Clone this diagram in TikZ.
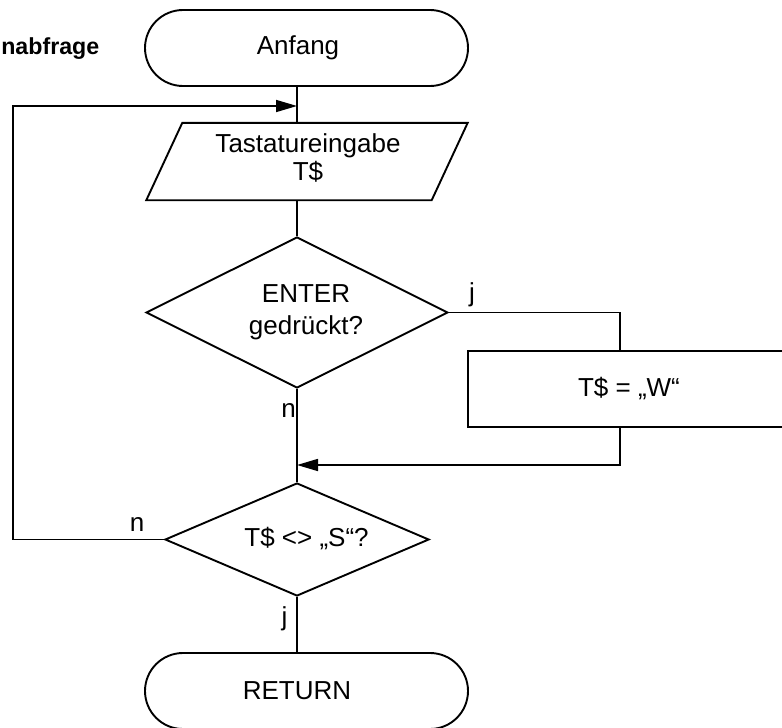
\documentclass[tikz,border=0pt]{standalone}
\usepackage{fontspec}
\setmainfont{Liberation Sans}
\usetikzlibrary{shapes.geometric,arrows.meta,calc}
\begin{document}
\begin{tikzpicture}[x=1pt,y=-1pt,
  shapeline/.style={draw,line width=1.9pt},
  conn/.style={line width=1.6pt},
  arr/.style={conn,-{Triangle[length=21pt,width=12pt]}},
  txt/.style={font=\fontsize{26}{32}\selectfont,align=center,inner sep=0pt},
  lbl/.style={font=\fontsize{26}{31}\selectfont,inner sep=0pt,anchor=base},
  term/.style={shapeline,rectangle,rounded corners=38pt,minimum width=323pt,minimum height=76pt,inner sep=0pt},
  dec/.style={shapeline,diamond,inner sep=0pt},
  proc/.style={shapeline,rectangle,inner sep=0pt,font=\fontsize{26}{31}\selectfont}]
\clip (0,0) rectangle (782,728);

% title
\node[anchor=base east,inner sep=0pt,font=\bfseries\fontsize{23.2}{28}\selectfont] (title) at (99.5,54) {nabfrage};

% start
\node[term] (anf) at (306.5,48) {};
\node[txt] (anft) at (298,48) {Anfang};

% input parallelogram
\node[minimum width=285pt,minimum height=77pt,inner sep=0pt] (io) at (307,161.5) {};
\draw[shapeline] ($(io.north west)+(18,0)$) -- ($(io.north east)+(18,0)$)
  -- ($(io.south east)+(-18,0)$) -- ($(io.south west)+(-18,0)$) -- cycle;
\node[txt,font=\fontsize{26}{28}\selectfont] (iot) at (308,158) {Tastatureingabe\\T\$};

% decision 1
\node[dec,minimum width=302pt,minimum height=151pt] (d1) at (297,312.5) {};
\node[txt] (d1t) at (306,312) {ENTER\\gedrückt?};

% process
\node[proc,minimum width=322pt,minimum height=76pt] (w) at (629,389) {T\$ = „W“};

% decision 2
\node[dec,minimum width=264pt,minimum height=113pt] (d2) at (297,539.5) {};
\node[txt] (d2t) at (306.5,539) {T\$ <> „S“?};

% end
\node[term] (ret) at (306.5,691) {};
\node[txt] (rett) at (297,691) {RETURN};

% helper coordinates
\coordinate (m1) at (297,106);
\coordinate (lt) at (13,106);
\coordinate (lb) at (13,539.5);
\coordinate (wj) at (620,312.5);
\coordinate (wm) at (620,465);
\coordinate (mm) at (297,465);

% connectors
\draw[conn] (anf.south -| m1) -- (io.north -| m1);
\draw[conn] (io.south -| d1) -- (d1.north);
\draw[conn] (d1.south) -- (d2.north);
\draw[conn] (d2.south) -- (d2.south |- ret.north);
\draw[conn] (d1.east) -- (wj) -- (wj |- w.north);
\draw[arr] (wj |- w.south) -- (wm) -- (mm);
\draw[arr] (d2.west) -- (lb) -- (lt) -- (m1);

% branch labels
\node[lbl] (j1) at (472,301.5) {j};
\node[lbl] (n1) at (288.5,417) {n};
\node[lbl] (n2) at (137,531) {n};
\node[lbl] (j2) at (284.5,625) {j};
\end{tikzpicture}
\end{document}
